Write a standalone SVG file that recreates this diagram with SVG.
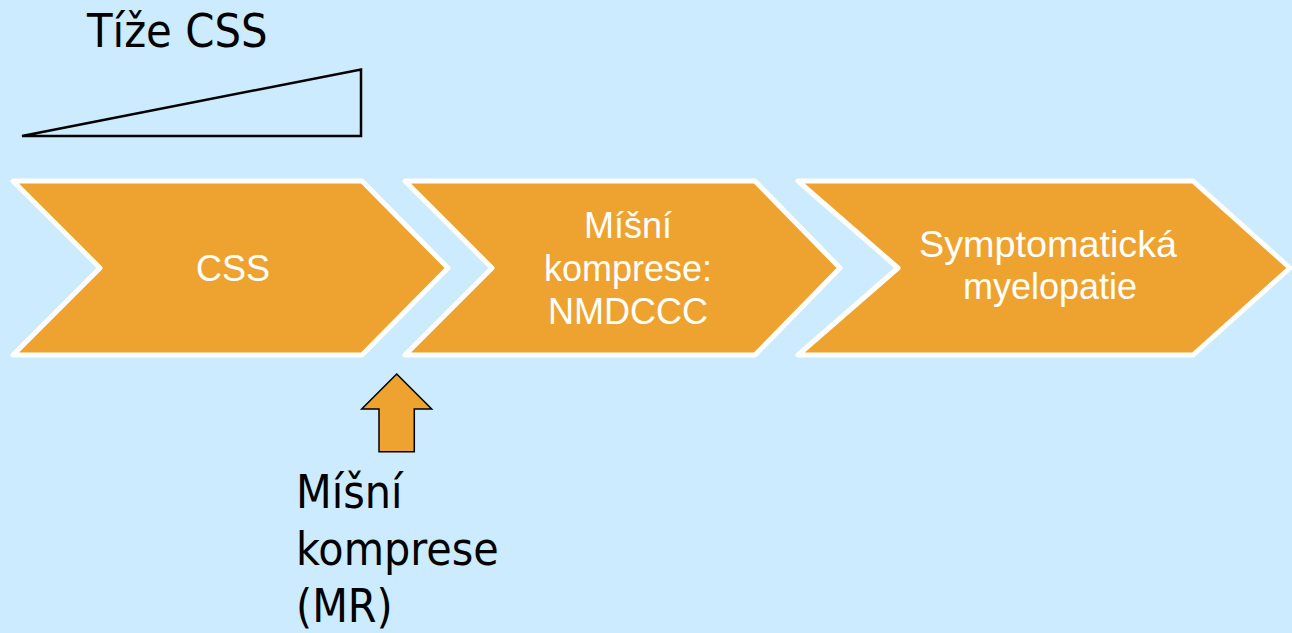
<svg xmlns="http://www.w3.org/2000/svg" width="1292" height="633" viewBox="0 0 1292 633">
<style>
.chev{fill:#EEA330;stroke:#FFFFFF;stroke-width:5;stroke-linejoin:round}
.wt{fill:#FFFFFF;font-family:"Liberation Sans",Arial,sans-serif;font-size:36px;text-anchor:middle}
.bt{fill:#000000;font-family:"DejaVu Sans Condensed","DejaVu Sans",sans-serif;font-stretch:condensed}
</style>
<rect width="1292" height="633" fill="#CCEBFE"/>
<g id="severity">
<text class="bt" x="87" y="47" font-size="46.5">Tíže CSS</text>
<path d="M22,136 L361,136 L361,69.5 Z" fill="none" stroke="#000" stroke-width="2.5"/>
</g>
<g id="node-css">
<polygon class="chev" points="13,181 362,181 448,268 362,355 13,355 100,268"/>
<text class="wt" x="233" y="281">CSS</text>
</g>
<g id="node-komprese">
<polygon class="chev" points="405,181 755,181 840,268 755,355 405,355 492,268"/>
<text class="wt" x="628" y="238">Míšní</text>
<text class="wt" x="628" y="281">komprese:</text>
<text class="wt" x="628" y="324">NMDCCC</text>
</g>
<g id="node-myelopatie">
<polygon class="chev" points="798,181 1193,181 1290,268 1193,355 798,355 898,268"/>
<text class="wt" x="1048" y="257" textLength="258" lengthAdjust="spacingAndGlyphs">Symptomatická</text>
<text class="wt" x="1050" y="299">myelopatie</text>
</g>
<g id="connectors">
<polygon points="396.7,374 431.7,409 414.3,409 414.3,451.7 379,451.7 379,409 361.7,409" fill="#EEA330" stroke="#000" stroke-width="1.5"/>
</g>
<g id="label-mr">
<text class="bt" x="296" y="508" font-size="46">Míšní</text>
<text class="bt" x="296" y="565" font-size="46">komprese</text>
<text class="bt" x="296" y="622" font-size="46">(MR)</text>
</g>
</svg>
